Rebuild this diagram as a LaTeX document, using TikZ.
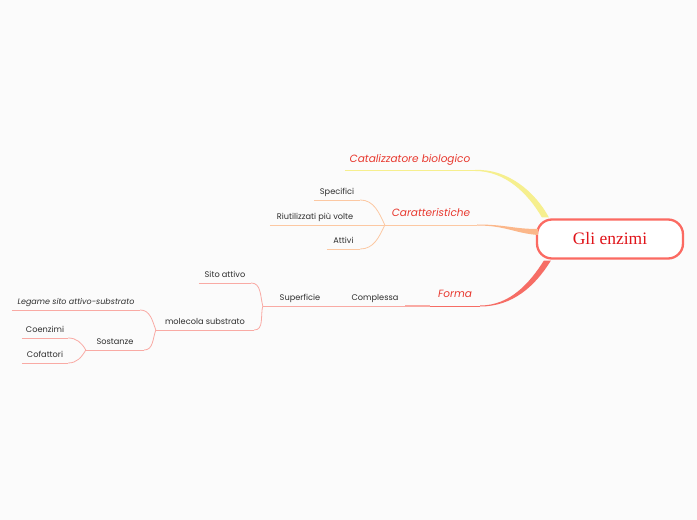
\documentclass[tikz,border=0pt]{standalone}
\usepackage{fontspec}
\newfontfamily\labelfont{Poppins}
\newfontfamily\rootfont{Liberation Serif}
\usepackage{xcolor}
\definecolor{bgcolor}{HTML}{FBFBFB}
\definecolor{rootborder}{HTML}{FB6A62}
\definecolor{roottext}{HTML}{E0141A}
\definecolor{labelred}{HTML}{E8392F}
\definecolor{subtext}{HTML}{2E2E2E}
\definecolor{catcolor}{HTML}{F6EF8E}
\definecolor{carcolor}{HTML}{FBB78A}
\definecolor{carlight}{HTML}{FCC8A2}
\definecolor{formacolor}{HTML}{F66D65}
\definecolor{formalight}{HTML}{F9AAA4}
\usepackage{tikz}
\usetikzlibrary{positioning,calc}
\tikzset{
    rootnode/.style={
        rectangle,
        draw=rootborder,
        fill=white,
        text=roottext,
        rounded corners=15pt,
        line width=2.3pt,
        minimum width=146pt,
        minimum height=39pt,
        font=\rootfont\fontsize{17.5}{20}\selectfont,
    },
    maintopic/.style={
        anchor=south,
        inner xsep=0pt,
        inner ysep=0pt,
        text depth=8pt,
        text=labelred,
        font=\labelfont\itshape\fontsize{10.5}{12}\selectfont,
    },
    subtopic/.style={
        anchor=south,
        inner xsep=0pt,
        inner ysep=0pt,
        text depth=5.5pt,
        text=subtext,
        font=\labelfont\fontsize{8.2}{10}\selectfont,
    },
    catline/.style={catcolor, line width=1pt},
    carline/.style={carlight, line width=0.8pt},
    formaline/.style={formalight, line width=0.8pt},
}

\begin{document}
\begin{tikzpicture}[x=1pt, y=1pt]
    % Background
    \fill[bgcolor] (0,0) rectangle (697,520);
    \useasboundingbox (0,0) rectangle (697,520);

    % Central topic
    \node[rootnode] (root) at (610,281) {Gli enzimi};

    % Main topics
    \node[maintopic, minimum width=130pt] (cat) at (410,349) {Catalizzatore biologico};
    \node[maintopic, minimum width=92pt] (car) at (431,295) {Caratteristiche};
    \node[maintopic, minimum width=50pt] (forma) at (455,214) {Forma};

    % Caratteristiche
    \node[subtopic, minimum width=46pt] (spec) at (337,320) {Specifici};
    \node[subtopic, minimum width=90pt] (riut) at (315,295) {Riutilizzati più volte};
    \node[subtopic, minimum width=33pt] (attivi) at (343.5,271) {Attivi};

    % Forma
    \node[subtopic, minimum width=60pt] (compl) at (375,214) {Complessa};
    \node[subtopic, minimum width=74pt] (superf) at (300,214) {Superficie};
    \node[subtopic, minimum width=52pt] (sito) at (225,237) {Sito attivo};
    \node[subtopic, minimum width=98pt] (molec) at (205,190) {molecola substrato};
    \node[subtopic, minimum width=128pt, font=\labelfont\itshape\fontsize{8}{10}\selectfont] (legame) at (76,210) {Legame sito attivo-substrato};
    \node[subtopic, minimum width=58pt] (sost) at (115,170) {Sostanze};
    \node[subtopic, minimum width=46pt] (coenz) at (45,182) {Coenzimi};
    \node[subtopic, minimum width=46pt] (cofatt) at (45,157) {Cofattori};

    % Branches from the central topic
    \draw[catline] (cat.south west) -- (cat.south east);
    \fill[catcolor] (cat.south east) .. controls +(30,0) and +(-14,24) .. ($(root.north west)+(6,1)$)
        -- ($(root.north west)+(13,1)$) .. controls +(-14,26) and +(32,1.5) .. ($(cat.south east)+(0,1)$) -- cycle;

    \draw[carline] (car.south west) -- (car.south east);
    \fill[carcolor] ($(car.south east)+(0,-0.5)$) .. controls +(28,0) and +(-24,2) .. ($(root.west)+(2,4)$)
        -- ($(root.west)+(2,10)$) .. controls +(-24,0) and +(28,0) .. ($(car.south east)+(0,0.5)$) -- cycle;

    \draw[formaline, formacolor] (forma.south west) -- (forma.south east);
    \fill[formacolor] ($(forma.south east)+(0,-0.5)$) .. controls +(32,0) and +(-16,-26) .. ($(root.south west)+(15,-1)$)
        -- ($(root.south west)+(8,-1)$) .. controls +(-14,-22) and +(30,0) .. ($(forma.south east)+(0,0.5)$) -- cycle;

    % Caratteristiche connectors
    \foreach \n in {spec,riut,attivi}
        \draw[carline] (\n.south west) -- (\n.south east);
    \draw[carline] (car.south west) to[out=115, in=0] (spec.south east);
    \draw[carline] (car.south west) -- (riut.south east);
    \draw[carline] (car.south west) to[out=245, in=0] (attivi.south east);

    % Forma connectors
    \foreach \n in {compl,superf,sito,molec,legame,sost,coenz,cofatt}
        \draw[formaline] (\n.south west) -- (\n.south east);
    \draw[formaline, line width=1.2pt] (forma.south west) -- (compl.south east);
    \draw[formaline] (compl.south west) -- (superf.south east);
    \draw[formaline] (superf.south west) to[out=105, in=0] (sito.south east);
    \draw[formaline] (superf.south west) to[out=255, in=0] (molec.south east);
    \draw[formaline] (molec.south west) to[out=110, in=0] (legame.south east);
    \draw[formaline] (molec.south west) to[out=250, in=0] (sost.south east);
    \draw[formaline] (sost.south west) to[out=120, in=0] (coenz.south east);
    \draw[formaline] (sost.south west) to[out=240, in=0] (cofatt.south east);
\end{tikzpicture}
\end{document}
